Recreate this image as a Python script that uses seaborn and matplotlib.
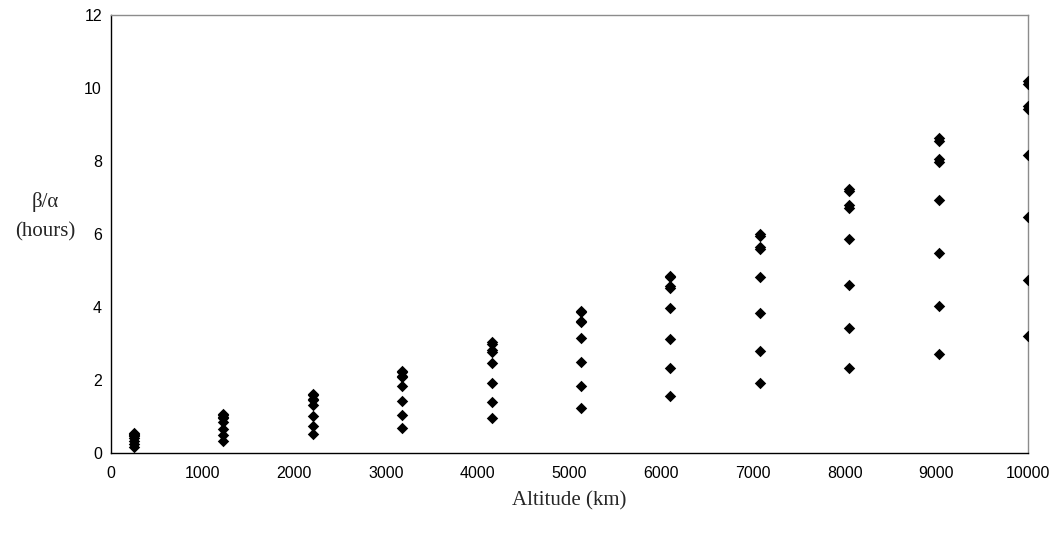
import matplotlib
matplotlib.use("Agg")
import matplotlib.pyplot as plt
import seaborn as sns
import pandas as pd

altitude = [250, 1225, 2200, 3175, 4150, 5125, 6100, 7075, 8050, 9025, 10000]

series_1 = [0.16, 0.33, 0.52, 0.69, 0.97, 1.22, 1.57, 1.92, 2.32, 2.71, 3.20]
series_2 = [0.24, 0.49, 0.74, 1.04, 1.40, 1.84, 2.32, 2.80, 3.42, 4.04, 4.75]
series_3 = [0.33, 0.67, 1.01, 1.43, 1.93, 2.48, 3.12, 3.83, 4.61, 5.48, 6.46]
series_4 = [0.42, 0.85, 1.31, 1.84, 2.46, 3.14, 3.96, 4.83, 5.85, 6.94, 8.17]
series_5 = [0.47, 0.97, 1.46, 2.07, 2.78, 3.58, 4.52, 5.58, 6.72, 7.98, 9.42]
series_6 = [0.48, 0.99, 1.48, 2.10, 2.82, 3.63, 4.57, 5.64, 6.80, 8.05, 9.50]
series_7 = [0.52, 1.04, 1.60, 2.21, 3.00, 3.85, 4.81, 5.94, 7.18, 8.55, 10.12]
series_8 = [0.54, 1.07, 1.63, 2.24, 3.03, 3.89, 4.86, 5.99, 7.24, 8.62, 10.20]

x_ticks = [0, 1000, 2000, 3000, 4000, 5000, 6000, 7000, 8000, 9000, 10000]
y_ticks = [0, 2, 4, 6, 8, 10, 12]

all_series = [series_1, series_2, series_3, series_4,
              series_5, series_6, series_7, series_8]
rows = []
for i, s in enumerate(all_series):
    for a, v in zip(altitude, s):
        rows.append({"altitude": a, "ratio": v, "series": f"s{i+1}"})
df = pd.DataFrame(rows)

sns.set_style("white")
plt.rcParams["font.family"] = ["Liberation Sans", "DejaVu Sans"]

fig = plt.figure(figsize=(10.53, 5.38), dpi=100)
ax = fig.add_axes([111 / 1053, 1 - 453 / 538, 917 / 1053, 438 / 538])

sns.scatterplot(data=df, x="altitude", y="ratio", color="black", marker="D",
                s=34, linewidth=0, ax=ax, legend=False, zorder=3)

ax.set_xlim(0, 10000)
ax.set_ylim(0, 12)
ax.set_xticks(x_ticks)
ax.set_yticks(y_ticks)
ax.set_xticklabels([str(t) for t in x_ticks], fontsize=11.5)
ax.set_yticklabels([str(t) for t in y_ticks], fontsize=11.5)
ax.tick_params(axis="x", direction="inout", length=7, width=0.8, pad=5.5, colors="black")
ax.tick_params(axis="y", direction="inout", length=7, width=0.8, pad=3, colors="black")

for side in ["left", "bottom"]:
    ax.spines[side].set_color("black")
    ax.spines[side].set_linewidth(1.0)
for side in ["top", "right"]:
    ax.spines[side].set_color("#8c8c8c")
    ax.spines[side].set_linewidth(1.0)

ax.set_xlabel("Altitude (km)", fontsize=15, family=["Liberation Serif", "DejaVu Serif"],
              labelpad=8)
ax.set_ylabel("β/α\n(hours)", fontsize=15, family=["Liberation Serif", "DejaVu Serif"],
              rotation=0, ha="center", va="center", linespacing=1.75)
ax.yaxis.set_label_coords(-0.072, 0.540)
ax.grid(False)

fig.savefig("out.png", dpi=100)
